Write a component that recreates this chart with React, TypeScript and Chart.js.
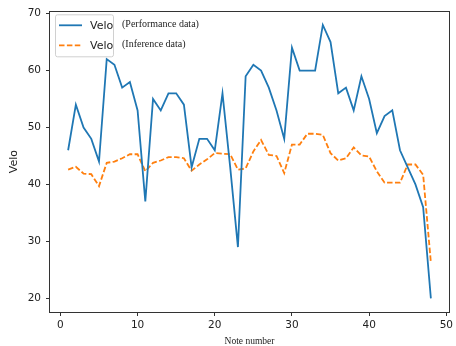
import React, { useEffect, useRef } from "react";
import { Chart, registerables } from "chart.js";

Chart.register(...registerables);

const noteNumbers = Array.from({ length: 48 }, (_, i) => i + 1);
const performanceVelo = [
  46, 54, 50, 48, 44, 62, 61, 57, 58, 53,
  37, 55, 53, 56, 56, 54, 43, 48, 48, 46,
  56, 43, 29, 59, 61, 60, 57, 53, 48, 64,
  60, 60, 60, 68, 65, 56, 57, 53, 59, 55,
  49, 52, 53, 46, 43, 40, 36, 20,
];
const inferenceVelo = [
  42.6, 43.1, 41.9, 41.8, 39.7, 43.8, 44, 44.6, 45.3, 45.3,
  42.3, 43.8, 44.2, 44.8, 44.8, 44.6, 42.4, 43.5, 44.4, 45.5,
  45.4, 45.3, 42.6, 42.8, 45.8, 47.8, 45.2, 45, 42, 47,
  47, 48.9, 48.9, 48.7, 45.5, 44.2, 44.6, 46.5, 45.1, 44.9,
  42.3, 40.3, 40.3, 40.3, 43.5, 43.5, 41.7, 26.3,
];
const xTicks = [0, 10, 20, 30, 40, 50];
const yTicks = [20, 30, 40, 50, 60, 70];
const seriesLabels = ["Velo", "Velo"];
const seriesNotes = ["(Performance data)", "(Inference data)"];
const xTitle = "Note number";
const yTitle = "Velo";

const BLUE = "#1f77b4";
const ORANGE = "#ff7f0e";
const AXIS = "#333333";

const overlayPlugin = {
  id: "overlay",
  afterDraw(chart: any) {
    const { ctx, chartArea: a } = chart;
    ctx.save();
    // frame
    ctx.strokeStyle = AXIS;
    ctx.lineWidth = 1;
    ctx.strokeRect(
      Math.round(a.left) - 0.5,
      Math.round(a.top) + 0.5,
      Math.round(a.right) - Math.round(a.left) + 1,
      Math.round(a.bottom) - Math.round(a.top)
    );
    // legend box
    const bx = a.left + 5;
    const by = a.top + 3;
    const bw = 58;
    const bh = 42;
    ctx.beginPath();
    if ((ctx as any).roundRect) (ctx as any).roundRect(bx + 0.5, by + 0.5, bw, bh, 2);
    else ctx.rect(bx + 0.5, by + 0.5, bw, bh);
    ctx.fillStyle = "rgba(255,255,255,0.85)";
    ctx.fill();
    ctx.strokeStyle = "#d0d0d0";
    ctx.stroke();
    const colors = [BLUE, ORANGE];
    const dashes = [[], [5.5, 2.4]];
    for (let i = 0; i < 2; i++) {
      const y = by + 11 + i * 20;
      ctx.beginPath();
      ctx.setLineDash(dashes[i]);
      ctx.strokeStyle = colors[i];
      ctx.lineWidth = 1.8;
      ctx.moveTo(bx + 4, y);
      ctx.lineTo(bx + 27, y);
      ctx.stroke();
      ctx.setLineDash([]);
      ctx.fillStyle = "#222";
      ctx.textBaseline = "middle";
      ctx.textAlign = "left";
      ctx.font = "11px 'DejaVu Sans'";
      ctx.fillText(seriesLabels[i], bx + 35, y + 1);
      ctx.font = "10px 'Liberation Serif'";
      ctx.fillText(seriesNotes[i], bx + 67, y - 1);
    }
    ctx.restore();
  },
};

export default function App() {
  const ref = useRef<HTMLCanvasElement>(null);
  useEffect(() => {
    document.body.style.margin = "0";
    const canvas = ref.current!;
    const chart = new Chart(canvas, {
      type: "line",
      data: {
        labels: noteNumbers,
        datasets: [
          {
            label: seriesLabels[0],
            data: noteNumbers.map((x, i) => ({ x, y: performanceVelo[i] })),
            borderColor: BLUE,
            borderWidth: 1.8,
            pointRadius: 0,
            tension: 0,
            fill: false,
          },
          {
            label: seriesLabels[1],
            data: noteNumbers.map((x, i) => ({ x, y: inferenceVelo[i] })),
            borderColor: ORANGE,
            borderWidth: 1.8,
            borderDash: [5.5, 2.4],
            pointRadius: 0,
            tension: 0,
            fill: false,
          },
        ],
      },
      options: {
        animation: false,
        responsive: false,
        devicePixelRatio: 1,
        layout: { padding: { top: 10, right: 2, left: 0, bottom: 0 } },
        plugins: { legend: { display: false }, tooltip: { enabled: false } },
        scales: {
          x: {
            type: "linear",
            min: -1.35,
            max: 50.35,
            afterBuildTicks: (s: any) => {
              s.ticks = xTicks.map((v) => ({ value: v }));
            },
            afterFit: (s: any) => {
              s.height = 34;
            },
            grid: {
              display: true,
              drawOnChartArea: false,
              drawTicks: true,
              tickLength: 4,
              color: AXIS,
            },
            border: { display: false },
            ticks: {
              padding: 3,
              color: "#222",
              font: { family: "'DejaVu Sans'", size: 10.5 },
              maxRotation: 0,
            },
            title: {
              display: true,
              text: xTitle,
              color: "#222",
              font: { family: "'Liberation Serif'", size: 9.5, lineHeight: 0.9 },
              padding: { top: 0, bottom: 0 },
            },
          },
          y: {
            type: "linear",
            min: 17.6,
            max: 70.4,
            afterBuildTicks: (s: any) => {
              s.ticks = yTicks.map((v) => ({ value: v }));
            },
            afterFit: (s: any) => {
              s.width = 50;
            },
            grid: {
              display: true,
              drawOnChartArea: false,
              drawTicks: true,
              tickLength: 4,
              color: AXIS,
            },
            border: { display: false },
            ticks: {
              padding: 5,
              color: "#222",
              font: { family: "'DejaVu Sans'", size: 10.5 },
            },
            title: {
              display: true,
              text: yTitle,
              color: "#222",
              font: { family: "'DejaVu Sans'", size: 11, lineHeight: 1.2 },
              padding: { top: 8, bottom: 0 },
            },
          },
        },
      },
      plugins: [overlayPlugin],
    } as any);
    return () => chart.destroy();
  }, []);
  return (
    <div style={{ position: "absolute", left: 0, top: 0, width: 456, height: 346, background: "#fff" }}>
      <canvas ref={ref} width={456} height={346} />
    </div>
  );
}
